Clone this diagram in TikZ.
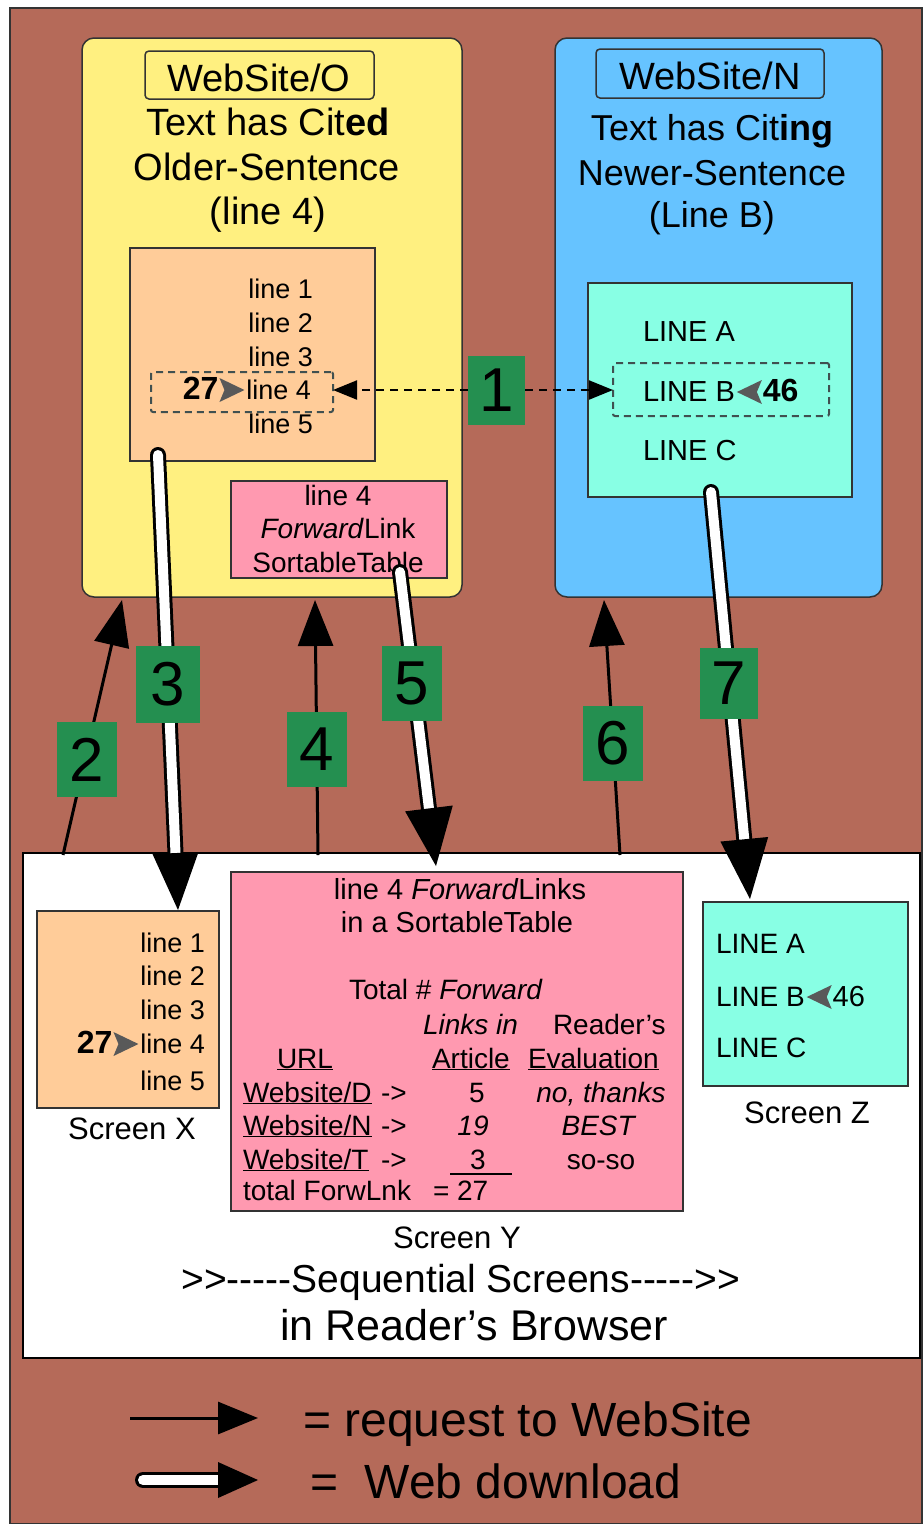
\documentclass[tikz,border=0pt]{standalone}
\usepackage{fontspec}
\setmainfont{Liberation Sans}
\usetikzlibrary{arrows.meta,calc}
\definecolor{bgbrown}{RGB}{181,106,89}
\definecolor{sitey}{RGB}{255,240,128}
\definecolor{siteb}{RGB}{102,195,255}
\definecolor{scrO}{RGB}{255,204,153}
\definecolor{scrC}{RGB}{136,255,228}
\definecolor{scrP}{RGB}{255,153,176}
\definecolor{tagG}{RGB}{36,143,80}
\definecolor{edge}{RGB}{51,51,51}
\definecolor{dashc}{RGB}{64,80,80}
\newcommand{\fsz}[1]{\fontsize{#1}{#1}\selectfont}
% white download arrow with black outline and a solid head:
% #1 start, #2 tip, #3 head length, #4 half head width
\newcommand{\dlarrow}[4]{%
  \draw[black, line width=16pt, line cap=round] (#1) -- ($(#2)!#3!(#1)$);
  \draw[white, line width=10pt, line cap=round] (#1) -- ($(#2)!#3!(#1)$);
  \fill ($(#2)!#3!(#1)!#4!90:(#2)$) -- (#2) -- ($(#2)!#3!(#1)!#4!-90:(#2)$) -- cycle;}
% shaded pointer glyphs next to the citation counts
\newcommand{\rpointer}[1]{\fill[ptr] (#1) ++(-25,-12) -- (#1) -- ++(-25,12) -- ++(5,-12) -- cycle;}
\newcommand{\lpointer}[1]{\fill[ptr] (#1) ++(25,-12) -- (#1) -- ++(25,12) -- ++(-5,-12) -- cycle;}
\begin{document}
\begin{tikzpicture}[x=1pt,y=-1pt,
  site/.style={draw=edge,line width=1.5pt,rounded corners=12pt,inner sep=0pt,outer sep=0pt,anchor=north west},
  box/.style={draw=edge,line width=1.5pt,inner sep=0pt,outer sep=0pt,anchor=north west},
  namebox/.style={draw=edge,line width=1.5pt,rounded corners=4pt,inner sep=0pt,outer sep=0pt,anchor=north west},
  dbox/.style={draw=dashc,line width=2pt,dash pattern=on 7pt off 5pt,rounded corners=2pt,inner sep=0pt,outer sep=0pt,anchor=north west},
  lbl/.style={inner sep=0pt,outer sep=0pt,anchor=base},
  lblw/.style={lbl,anchor=base west},
  lble/.style={lbl,anchor=base east},
  tag/.style={fill=tagG,inner sep=0pt,outer sep=0pt,minimum width=60pt,minimum height=75pt,font=\fsz{62}},
  req/.style={line width=3pt,-{Triangle[length=46pt,width=35pt]}},
  cite/.style={line width=2pt,dash pattern=on 8pt off 6pt,-{Triangle[length=24pt,width=19pt]}},
  ptr/.style={fill=black!65},
]
\useasboundingbox (0,0) rectangle (922,1524);
\fill[white] (0,0) rectangle (922,1524);
\node[box, fill=bgbrown, minimum width=912pt, minimum height=1516pt] (frame) at (10,8) {};

% ---- the two web sites ----
\node[site, fill=sitey, minimum width=380pt, minimum height=559pt] (siteO) at (82,38) {};
\node[site, fill=siteb, minimum width=327pt, minimum height=559pt] (siteN) at (555,38) {};

\node[namebox, minimum width=229pt, minimum height=48pt] (nameO) at (145,51) {};
\node[lbl,font=\fsz{38}] (nameOtxt) at (259,91) {WebSite/O};
\node[lbl,font=\fsz{38}] (oldL1) at (268,135) {Text has Cit\textbf{ed}};
\node[lbl,font=\fsz{38}] (oldL2) at (267,180) {Older-Sentence};
\node[lbl,font=\fsz{38}] (oldL3) at (268,224) {(line 4)};

\node[namebox, minimum width=228pt, minimum height=49pt] (nameN) at (596,49) {};
\node[lbl,font=\fsz{38}] (nameNtxt) at (710,89) {WebSite/N};
\node[lbl,font=\fsz{36}] (newL1) at (712,140) {Text has Cit\textbf{ing}};
\node[lbl,font=\fsz{36}] (newL2) at (712,185) {Newer-Sentence};
\node[lbl,font=\fsz{36}] (newL3) at (712,227) {(Line B)};

% older document
\node[box, fill=scrO, minimum width=245pt, minimum height=213pt] (docO) at (130,248) {};
\node[dbox, minimum width=182pt, minimum height=40pt] (citedLine) at (151,372) {};
\node[lble,font=\fsz{27}] (o1) at (313,298) {line 1};
\node[lble,font=\fsz{27}] (o2) at (313,332) {line 2};
\node[lble,font=\fsz{27}] (o3) at (313,366) {line 3};
\node[lble,font=\fsz{27}] (o4) at (311,399) {line 4};
\node[lble,font=\fsz{27}] (o5) at (313,433) {line 5};
\coordinate (o4tip) at ($(o4.base west)+(-2,-9)$);
\rpointer{o4tip}
\node[lble,font=\fsz{32}\bfseries] (o4n) at ($(o4tip)+(-26,9)$) {27};

% newer document
\node[box, fill=scrC, minimum width=264pt, minimum height=214pt] (docN) at (588,283) {};
\node[dbox, minimum width=216pt, minimum height=53pt] (citingLine) at (613,363) {};
\node[lblw,font=\fsz{29}] (nA) at (643,341) {LINE A};
\node[lblw,font=\fsz{29}] (nB) at (643,401) {LINE B};
\node[lblw,font=\fsz{29}] (nC) at (643,460) {LINE C};
\coordinate (nBtip) at ($(nB.base east)+(2,-9)$);
\lpointer{nBtip}
\node[lblw,font=\fsz{32}\bfseries] (nB46) at ($(nBtip)+(26,9)$) {46};

% forward-link table on the older site
\node[box, fill=scrP, minimum width=216pt, minimum height=97pt] (fwdO) at (231,481) {};
\node[lbl,font=\fsz{28}] (f1) at (338,505) {line 4};
\node[lbl,font=\fsz{28}] (f2) at (338,538) {\textit{Forward}Link};
\node[lbl,font=\fsz{28}] (f3) at (338,572) {SortableTable};

% ---- browser screens ----
\node[box, draw=black, line width=2pt, fill=white, minimum width=897pt, minimum height=505pt] (screens) at (23,853) {};

% Screen X
\node[box, fill=scrO, minimum width=182pt, minimum height=197pt] (scrX) at (37,911) {};
\node[lble,font=\fsz{27}] (x1) at (205,952) {line 1};
\node[lble,font=\fsz{27}] (x2) at (205,985) {line 2};
\node[lble,font=\fsz{27}] (x3) at (205,1019) {line 3};
\node[lble,font=\fsz{27}] (x4) at (205,1053) {line 4};
\node[lble,font=\fsz{27}] (x5) at (205,1090) {line 5};
\coordinate (x4tip) at ($(x4.base west)+(-2,-9)$);
\rpointer{x4tip}
\node[lble,font=\fsz{32}\bfseries] (x4n) at ($(x4tip)+(-26,9)$) {27};
\node[lbl,font=\fsz{31}] (scrXlab) at (132,1139) {Screen X};

% Screen Y
\node[box, fill=scrP, minimum width=452pt, minimum height=339pt] (scrY) at (231,872) {};
\node[lbl,font=\fsz{29}] (yH1) at (460,899) {line 4 \textit{Forward}Links};
\node[lbl,font=\fsz{29}] (yH2) at (457,932) {in a SortableTable};
\node[lblw,font=\fsz{28}] (yT1) at (349,999) {Total \# \textit{Forward}};
\node[lblw,font=\fsz{28}] (yT2) at (423,1034) {\textit{Links in}};
\node[lblw,font=\fsz{28}] (yT3) at (553,1034) {Reader’s};
\node[lblw,font=\fsz{28}] (yC1) at (277,1068) {\underline{URL}};
\node[lblw,font=\fsz{28}] (yC2) at (432,1068) {\underline{Article}};
\node[lblw,font=\fsz{28}] (yC3) at (528,1068) {\underline{Evaluation}};
\node[lblw,font=\fsz{28}] (yD1) at (243,1102) {\underline{Website/D}};
\node[lblw,font=\fsz{28}] (yD2) at (381,1102) {->};
\node[lbl,font=\fsz{28}] (yD3) at (477,1102) {5};
\node[lbl,font=\fsz{28}] (yD4) at (601,1102) {\textit{no, thanks}};
\node[lblw,font=\fsz{28}] (yN1) at (243,1135) {\underline{Website/N}};
\node[lblw,font=\fsz{28}] (yN2) at (381,1135) {->};
\node[lbl,font=\fsz{28}] (yN3) at (473,1135) {\textit{19}};
\node[lbl,font=\fsz{28}] (yN4) at (599,1135) {\textit{BEST}};
\node[lblw,font=\fsz{28}] (yS1) at (243,1169) {\underline{Website/T}};
\node[lblw,font=\fsz{28}] (yS2) at (381,1169) {->};
\node[lbl,font=\fsz{28}] (yS3) at (478,1169) {3};
\node[lbl,font=\fsz{28}] (yS4) at (601,1169) {so-so};
\draw[line width=1.2pt] (450,1174) -- (512,1174);
\node[lblw,font=\fsz{28}] (yR1) at (243,1200) {total ForwLnk};
\node[lblw,font=\fsz{28}] (yR2) at (433,1200) {= 27};
\node[lbl,font=\fsz{31}] (scrYlab) at (457,1248) {Screen Y};

% Screen Z
\node[box, fill=scrC, minimum width=205pt, minimum height=184pt] (scrZ) at (703,902) {};
\node[lblw,font=\fsz{28}] (zA) at (716,953) {LINE A};
\node[lblw,font=\fsz{28}] (zB) at (716,1006) {LINE B};
\node[lblw,font=\fsz{28}] (zC) at (716,1057) {LINE C};
\coordinate (zBtip) at ($(zB.base east)+(2,-9)$);
\lpointer{zBtip}
\node[lblw,font=\fsz{29}] (zB46) at ($(zBtip)+(26,9)$) {46};
\node[lbl,font=\fsz{31}] (scrZlab) at (807,1123) {Screen Z};

\node[lbl,font=\fsz{39}] (seq) at (461,1292) {>{}>-{}-{}-{}-{}-Sequential Screens-{}-{}-{}-{}->{}>};
\node[lbl,font=\fsz{43}] (browser) at (474,1340) {in Reader’s Browser};

% ---- connectors ----
\coordinate (r2s) at (63,855);  \coordinate (r2t) at (122,600);
\coordinate (r4s) at (318,855); \coordinate (r4t) at (315,600);
\coordinate (r6s) at (620,855); \coordinate (r6t) at (604,600);
\draw[req] (r2s) -- (r2t);
\draw[req] (r4s) -- (r4t);
\draw[req] (r6s) -- (r6t);

\coordinate (d3s) at (158,455); \coordinate (d3t) at (178,910);
\coordinate (d5s) at (400,572); \coordinate (d5t) at (436,866);
\coordinate (d7s) at (711,492); \coordinate (d7t) at (750,899);
\dlarrow{d3s}{d3t}{57pt}{23pt}
\dlarrow{d5s}{d5t}{58pt}{24pt}
\dlarrow{d7s}{d7t}{60pt}{24pt}

% step numbers
\node[tag, minimum width=57pt, minimum height=69pt] (tag1) at (496.5,390) {1};
\draw[cite] (tag1.west) -- (tag1.west -| citedLine.east);
\draw[cite] (tag1.east) -- (tag1.east -| citingLine.west);
\node[tag] (tag2) at (87,759.5) {2};
\node[tag, minimum width=64pt, minimum height=77pt] (tag3) at (168,684.5) {3};
\node[tag] (tag4) at (317,749.5) {4};
\node[tag] (tag5) at (412,683.5) {5};
\node[tag] (tag6) at (612.5,743.5) {6};
\node[tag, minimum width=58pt, minimum height=71pt] (tag7) at (729,683.5) {7};

% ---- legend ----
\coordinate (lg1s) at (130,1418); \coordinate (lg1t) at (258,1418);
\draw[line width=3pt,-{Triangle[length=40pt,width=32pt]}] (lg1s) -- (lg1t);
\coordinate (lg2s) at (143,1480); \coordinate (lg2t) at (258,1480);
\dlarrow{lg2s}{lg2t}{40pt}{18pt}
\node[lblw,font=\fsz{48}] (lgReq) at (303,1436) {= request to WebSite};
\node[lblw,font=\fsz{48}] (lgDl) at (310,1498) {= \ Web download};
\end{tikzpicture}
\end{document}
